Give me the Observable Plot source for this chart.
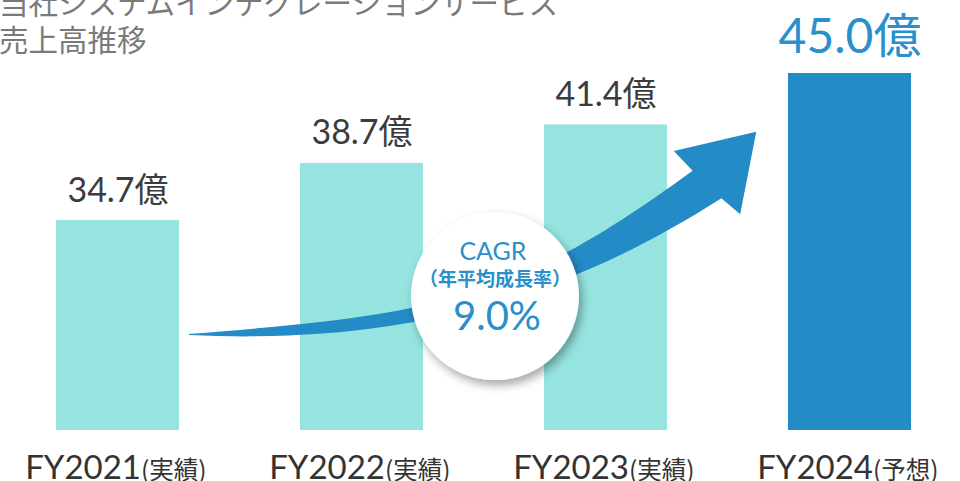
<!DOCTYPE html>
<html><head><meta charset="utf-8">
<script src="https://cdn.jsdelivr.net/npm/d3@7"></script>
<script src="https://cdn.jsdelivr.net/npm/@observablehq/plot@0.6"></script>
<style>
body{margin:0;background:#fff;}
#wrap{position:relative;width:960px;height:481px;overflow:hidden;background:#fff;}
#title{position:absolute;left:-1px;top:-17px;font-family:"Noto Sans CJK JP",sans-serif;font-size:29.5px;line-height:37px;color:#7a7a7a;white-space:nowrap;z-index:2;}
#wrap svg{position:absolute;left:0;top:0;}
</style></head><body>
<div id="wrap"><div id="title">当社システムインテグレーションサービス<br>売上高推移</div></div>
<script>
// ---- data ----
const categories = ["FY2021", "FY2022", "FY2023", "FY2024"];
const suffixes = ["(実績)", "(実績)", "(実績)", "(予想)"];
const values = [34.7, 38.7, 41.4, 45.0];
const forecast = [false, false, false, true];
const valueUnit = "億";
const yBase = 20;
const yMax = 45;
const cagrTitle = "CAGR";
const cagrSub = "（年平均成長率）";
const cagrValue = "9.0%";
// arrow annotation in data units: [category index, value]
const arrowTop = [[0.293, 26.72], [1.318, 28.12], [1.620, 28.96], [2.357, 38.16]];
const arrowHead = [[2.280, 39.54], [2.618, 40.89], [2.552, 35.11], [2.475, 36.23]];
const arrowBottom = [[0.293, 26.65], [1.166, 25.95], [1.822, 29.10]];
const cagrCenter = [1.547, 29.38];

// ---- styles ----
const teal = "#95e4e0";
const blue = "#238bc6";
const textBlue = "#2a8fcb";
const latin = "Lato, 'Noto Sans CJK JP', sans-serif";
const cjk = "'Noto Sans CJK JP', sans-serif";
const padInner = 0.496;

const data = categories.map((c, i) => ({cat: c, suffix: suffixes[i], value: values[i], forecast: forecast[i]}));
const actual = data.filter(d => !d.forecast);
const plan = data.filter(d => d.forecast);

function decor(index, scales) {
  const {x, y} = scales;
  const step = x(categories[1]) - x(categories[0]);
  const bw = step * (1 - padInner);
  const X = i => x(categories[0]) + bw / 2 + i * step;
  const P = ([i, v]) => [X(i), y(v)];
  const g = d3.create("svg:g");
  g.append("defs").append("filter").attr("id", "sh").attr("x", "-30%").attr("y", "-30%").attr("width", "160%").attr("height", "160%")
    .append("feDropShadow").attr("dx", 3).attr("dy", 5).attr("stdDeviation", 5)
    .attr("flood-color", "#000").attr("flood-opacity", 0.35);
  const p = d3.path();
  p.moveTo(...P(arrowTop[0]));
  p.bezierCurveTo(...P(arrowTop[1]), ...P(arrowTop[2]), ...P(arrowTop[3]));
  for (const q of arrowHead) p.lineTo(...P(q));
  p.bezierCurveTo(...P(arrowBottom[2]), ...P(arrowBottom[1]), ...P(arrowBottom[0]));
  p.closePath();
  g.append("path").attr("d", p.toString()).attr("fill", blue);
  const [cx, cy] = P(cagrCenter);
  g.append("circle").attr("cx", cx).attr("cy", cy).attr("r", 84).attr("fill", "#fff").attr("filter", "url(#sh)");
  const t = g.append("g").attr("text-anchor", "middle").attr("fill", textBlue);
  t.append("text").attr("x", cx - 2).attr("y", cy - 36).attr("font-family", latin).attr("font-size", 25).text(cagrTitle);
  t.append("text").attr("x", cx).attr("y", cy - 10).attr("font-family", cjk).attr("font-size", 19).attr("font-weight", "bold").text(cagrSub);
  t.append("text").attr("x", cx + 2).attr("y", cy + 34).attr("font-family", latin).attr("font-size", 40).text(cagrValue);
  return g.node();
}

const chart = Plot.plot({
  width: 960,
  height: 481,
  margin: 0,
  style: {background: "transparent"},
  x: {domain: categories, range: [3, 963], paddingInner: padInner, paddingOuter: 0.215, axis: null},
  y: {domain: [yBase, yMax], range: [430, 73], axis: null},
  marks: [
    Plot.barY(actual, {x: "cat", y1: () => yBase, y2: "value", fill: teal}),
    Plot.barY(plan, {x: "cat", y1: () => yBase, y2: "value", fill: blue}),
    decor,
    Plot.text(actual, {x: "cat", y: "value", text: d => d.value.toFixed(1) + valueUnit, dy: -19, lineAnchor: "bottom", fontSize: 34, fill: "#3c3c3c", fontFamily: latin}),
    Plot.text(plan, {x: "cat", y: "value", text: d => d.value.toFixed(1) + valueUnit, dy: -21, lineAnchor: "bottom", fontSize: 48, fill: textBlue, fontFamily: latin}),
    Plot.text(data, {x: "cat", y: () => yBase, text: "cat", textAnchor: "end", dx: 23, dy: 48, lineAnchor: "bottom", fontSize: 33, fill: "#333", fontFamily: latin}),
    Plot.text(data, {x: "cat", y: () => yBase, text: "suffix", textAnchor: "start", dx: 23, dy: 48, lineAnchor: "bottom", fontSize: 24.5, fill: "#333", fontFamily: cjk})
  ]
});
document.getElementById("wrap").appendChild(chart);
</script>
</body></html>
